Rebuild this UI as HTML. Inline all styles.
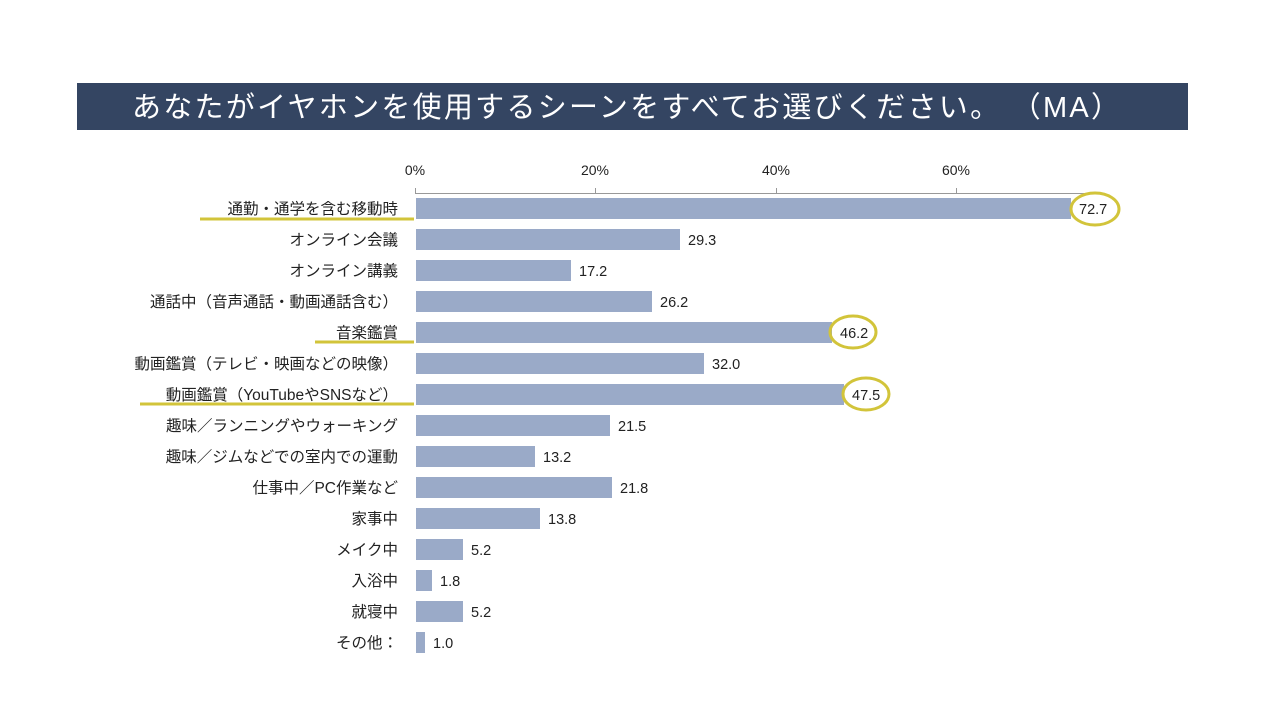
<!DOCTYPE html>
<html><head><meta charset="utf-8"><style>
body{margin:0;background:#fff;}
svg text{font-family:"Liberation Sans","Noto Sans CJK JP",sans-serif;}
</style></head><body>
<svg width="1280" height="720" viewBox="0 0 1280 720" xmlns="http://www.w3.org/2000/svg">
<rect x="77" y="83" width="1111" height="47" fill="#344562"/>
<text x="132" y="117" font-size="29" fill="#fff" textLength="988" lengthAdjust="spacing">あなたがイヤホンを使用するシーンをすべてお選びください。 （MA）</text>
<g font-size="14" fill="#222" text-anchor="middle">
<text x="415" y="175">0%</text><text x="595" y="175">20%</text><text x="776" y="175">40%</text><text x="956" y="175">60%</text>
</g>
<line x1="415" y1="193.5" x2="1085" y2="193.5" stroke="#999" stroke-width="1"/>
<g stroke="#999"><line x1="415.5" y1="188" x2="415.5" y2="194"/><line x1="595.5" y1="188" x2="595.5" y2="194"/><line x1="776.5" y1="188" x2="776.5" y2="194"/><line x1="956.5" y1="188" x2="956.5" y2="194"/></g>
<g fill="#9aaac8">
<rect x="416" y="198" width="655" height="21"/>
<rect x="416" y="229" width="264" height="21"/>
<rect x="416" y="260" width="155" height="21"/>
<rect x="416" y="291" width="236" height="21"/>
<rect x="416" y="322" width="416" height="21"/>
<rect x="416" y="353" width="288" height="21"/>
<rect x="416" y="384" width="428" height="21"/>
<rect x="416" y="415" width="194" height="21"/>
<rect x="416" y="446" width="119" height="21"/>
<rect x="416" y="477" width="196" height="21"/>
<rect x="416" y="508" width="124" height="21"/>
<rect x="416" y="539" width="47" height="21"/>
<rect x="416" y="570" width="16" height="21"/>
<rect x="416" y="601" width="47" height="21"/>
<rect x="416" y="632" width="9" height="21"/>
</g>
<g font-size="15.5" fill="#222" text-anchor="end">
<text x="398" y="214">通勤・通学を含む移動時</text>
<text x="398" y="245">オンライン会議</text>
<text x="398" y="276">オンライン講義</text>
<text x="398" y="307">通話中（音声通話・動画通話含む）</text>
<text x="398" y="338">音楽鑑賞</text>
<text x="398" y="369">動画鑑賞（テレビ・映画などの映像）</text>
<text x="398" y="400">動画鑑賞（YouTubeやSNSなど）</text>
<text x="398" y="431">趣味／ランニングやウォーキング</text>
<text x="398" y="462">趣味／ジムなどでの室内での運動</text>
<text x="398" y="493">仕事中／PC作業など</text>
<text x="398" y="524">家事中</text>
<text x="398" y="555">メイク中</text>
<text x="398" y="586">入浴中</text>
<text x="398" y="617">就寝中</text>
<text x="398" y="648">その他：</text>
</g>
<g font-size="14.5" fill="#222">
<text x="1079" y="214">72.7</text>
<text x="688" y="245">29.3</text>
<text x="579" y="276">17.2</text>
<text x="660" y="307">26.2</text>
<text x="840" y="338">46.2</text>
<text x="712" y="369">32.0</text>
<text x="852" y="400">47.5</text>
<text x="618" y="431">21.5</text>
<text x="543" y="462">13.2</text>
<text x="620" y="493">21.8</text>
<text x="548" y="524">13.8</text>
<text x="471" y="555">5.2</text>
<text x="440" y="586">1.8</text>
<text x="471" y="617">5.2</text>
<text x="433" y="648">1.0</text>
</g>
<g fill="none" stroke="#d2c43a" stroke-width="3">
<ellipse cx="1095" cy="209" rx="24" ry="16"/>
<ellipse cx="853" cy="332" rx="23" ry="16"/>
<ellipse cx="866" cy="394" rx="23" ry="16"/>
<line x1="200" y1="219" x2="414" y2="219"/>
<line x1="315" y1="342" x2="414" y2="342"/>
<line x1="140" y1="404" x2="414" y2="404"/>
</g>
</svg>
</body></html>
